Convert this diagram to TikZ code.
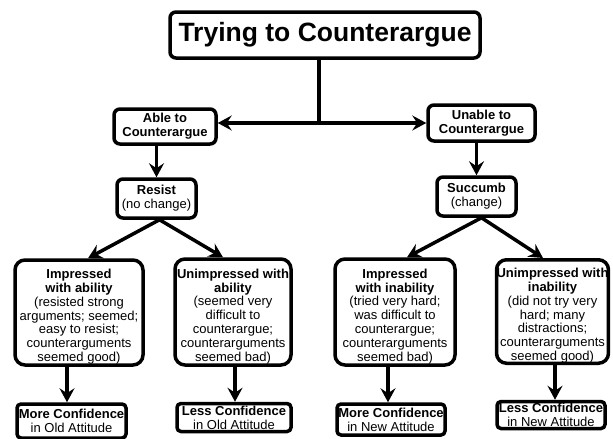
\documentclass[tikz,border=0pt]{standalone}
\usepackage{fontspec}
\setmainfont{Liberation Sans}
\usetikzlibrary{arrows.meta}
\newcommand{\tstrut}{\rule{0pt}{18pt}}
\tikzset{
  box/.style={draw=black, line width=3.5pt, fill=white, rounded corners=6pt, inner sep=0pt, align=center, font=\fontsize{13}{13.8}\selectfont},
  bigbox/.style={box, rounded corners=10pt},
  arr/.style={line width=3.5pt, -{Stealth[length=14pt,width=15pt,inset=5pt]}},
  plain/.style={line width=3.5pt}
}
\begin{document}
\begin{tikzpicture}[x=1pt,y=-1pt]
\useasboundingbox (0,0) rectangle (613,439);
\fill[white] (0,0) rectangle (613,439);

\node[box, minimum width=310pt, minimum height=46pt, font=\fontsize{26.5}{28}\selectfont\bfseries] (title) at (325,35) {Trying to Counterargue};

\node[box, minimum width=102pt, minimum height=35pt] (able) at (165,126.5) {\textbf{Able to}\\\textbf{Counterargue}};
\node[box, minimum width=107pt, minimum height=36pt] (unable) at (481.5,123) {\textbf{Unable to}\\\textbf{Counterargue}};

\node[box, minimum width=79pt, minimum height=39pt] (resist) at (156.5,198.5) {\textbf{Resist}\\(no change)};
\node[box, minimum width=79pt, minimum height=39pt] (succumb) at (476.5,196.5) {\textbf{Succumb}\\(change)};

\node[bigbox, minimum width=128pt, minimum height=105pt] (impA) at (79,312.5) {\tstrut\textbf{Impressed}\\\textbf{with ability}\\(resisted strong\\arguments; seemed;\\easy to resist;\\counterarguments\\seemed good)};
\node[bigbox, minimum width=116pt, minimum height=106pt] (unimpA) at (233,312) {\tstrut\textbf{Unimpressed with}\\\textbf{ability}\\(seemed very\\difficult to\\counterargue;\\counterarguments\\seemed bad)};
\node[bigbox, minimum width=120pt, minimum height=106pt] (impI) at (395,312) {\tstrut\textbf{Impressed}\\\textbf{with inability}\\(tried very hard;\\was difficult to\\counterargue;\\counterarguments\\seemed bad)};
\node[bigbox, minimum width=111pt, minimum height=103pt] (unimpI) at (552.5,311.5) {\tstrut\textbf{Unimpressed with}\\\textbf{inability}\\(did not try very\\hard; many\\distractions;\\counterarguments\\seemed good)};

\node[box, rounded corners=4pt, minimum width=109pt, minimum height=34pt] (moreOld) at (71.5,421) {\textbf{More Confidence}\\in Old Attitude};
\node[box, rounded corners=4pt, minimum width=114pt, minimum height=28pt] (lessOld) at (234,417.5) {\textbf{Less Confidence}\\in Old Attitude};
\node[box, rounded corners=4pt, minimum width=108pt, minimum height=31pt] (moreNew) at (391,419.5) {\textbf{More Confidence}\\in New Attitude};
\node[box, rounded corners=4pt, minimum width=108pt, minimum height=27pt] (lessNew) at (551,415) {\textbf{Less Confidence}\\in New Attitude};

\coordinate (j) at (319,123);
\draw[plain] (title.south -| j) -- (j);
\draw[arr] (j) -- (j -| able.east);
\draw[arr] (j) -- (j -| unable.west);

\draw[arr] (able.south -| resist.north) -- (resist.north);
\draw[arr] (unable.south -| succumb.north) -- (succumb.north);

\draw[arr] ([xshift=3pt]resist.south) -- ([xshift=9pt]impA.north);
\draw[arr] ([xshift=3pt]resist.south) -- ([xshift=-10pt]unimpA.north);
\draw[arr] ([xshift=5pt]succumb.south) -- ([xshift=12pt]impI.north);
\draw[arr] ([xshift=5pt]succumb.south) -- ([xshift=-9.5pt]unimpI.north);

\draw[arr] ([xshift=-12pt]impA.south) -- ([xshift=-4.5pt]moreOld.north);
\draw[arr] ([xshift=2pt]unimpA.south) -- ([xshift=1pt]lessOld.north);
\draw[arr] ([xshift=-7pt]impI.south) -- ([xshift=-3pt]moreNew.north);
\draw[arr] ([xshift=2.5pt]unimpI.south) -- ([xshift=4pt]lessNew.north);
\end{tikzpicture}
\end{document}
